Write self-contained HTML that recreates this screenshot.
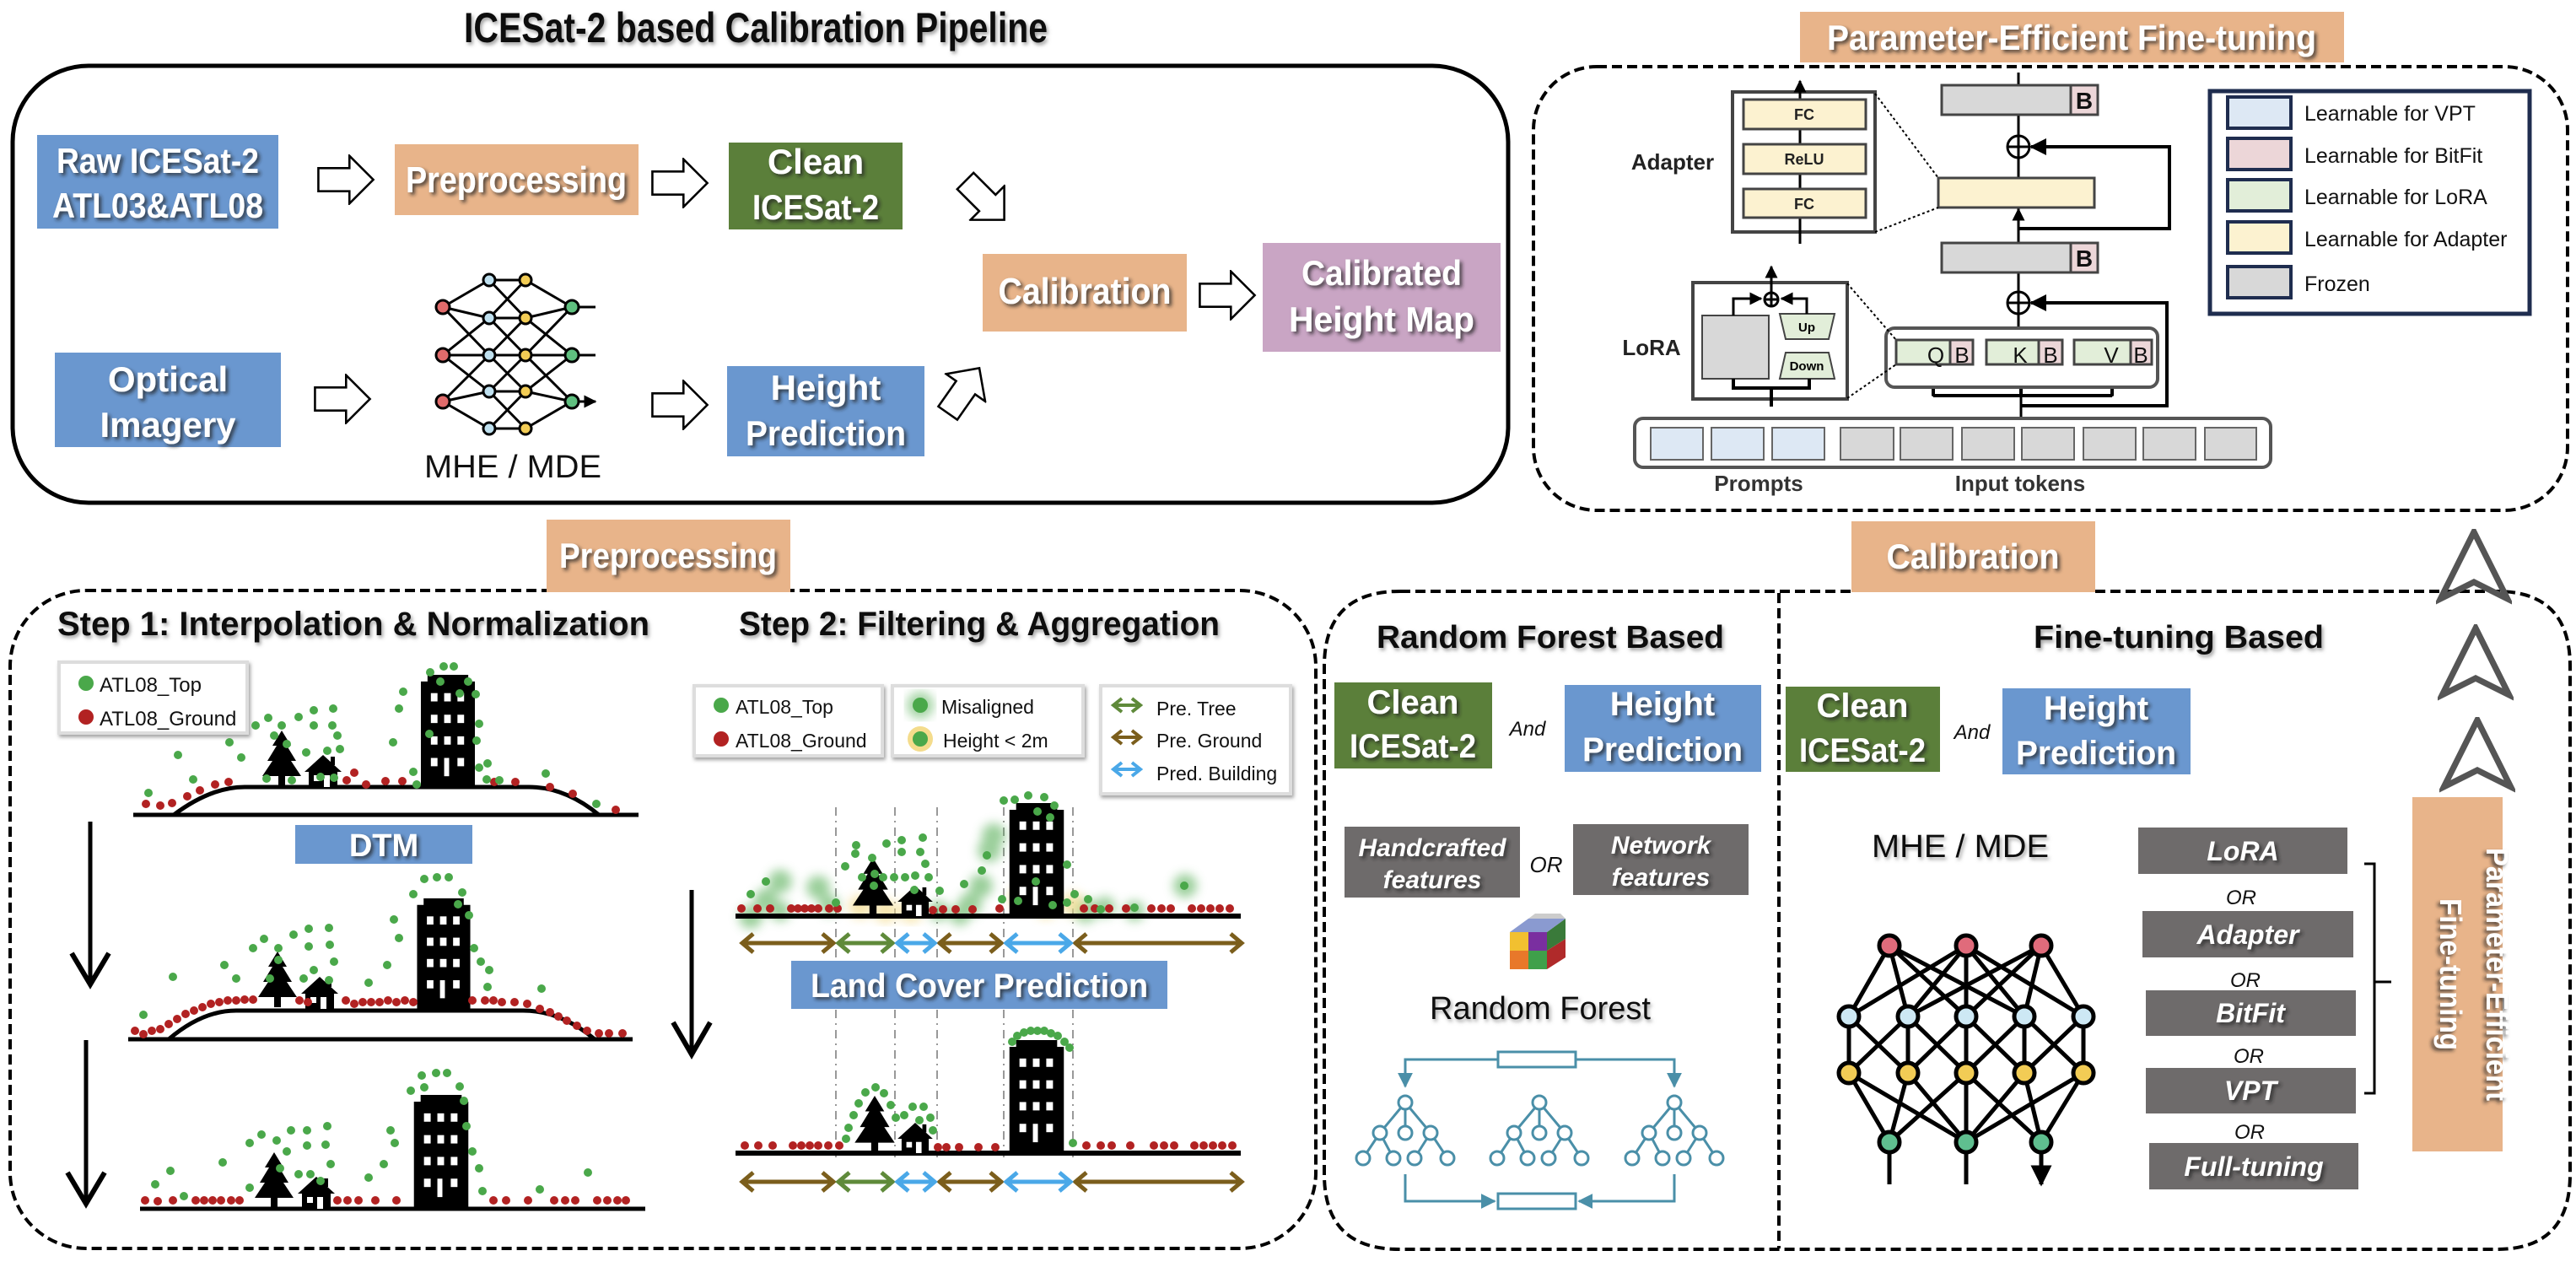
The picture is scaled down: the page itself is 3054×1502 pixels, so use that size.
<!DOCTYPE html>
<html><head><meta charset="utf-8"><style>
html,body{margin:0;padding:0;background:#fff}
svg{display:block}
text{font-family:"Liberation Sans Narrow","Liberation Sans",sans-serif}
.w{fill:#fff;font-weight:bold;filter:url(#sh)}
.k{fill:#111}
</style></head><body>
<svg width="3054" height="1502" viewBox="0 0 3054 1502" xmlns="http://www.w3.org/2000/svg">
<defs>
<filter id="sh" x="-10%" y="-20%" width="130%" height="150%"><feDropShadow dx="3" dy="3" stdDeviation="2" flood-color="#222" flood-opacity="0.75"/></filter>
<filter id="sh2" x="-10%" y="-20%" width="130%" height="150%"><feDropShadow dx="2" dy="3" stdDeviation="2" flood-color="#666" flood-opacity="0.6"/></filter>
<filter id="blur"><feGaussianBlur stdDeviation="6"/></filter>
<symbol id="bld" viewBox="0 0 65 135"><path d="M8 0H57V8H65V135H0V8H8Z" fill="#000"/>
<g fill="#fff"><rect x="12" y="22" width="8" height="10"/><rect x="28" y="22" width="8" height="10"/><rect x="44" y="22" width="8" height="10"/>
<rect x="12" y="48" width="8" height="10"/><rect x="28" y="48" width="8" height="10"/><rect x="44" y="48" width="8" height="10"/>
<rect x="12" y="74" width="8" height="10"/><rect x="28" y="74" width="8" height="10"/><rect x="44" y="74" width="8" height="10"/>
<rect x="12" y="100" width="8" height="10"/><rect x="28" y="100" width="6" height="22"/><rect x="44" y="100" width="8" height="10"/></g></symbol>
<symbol id="tree" viewBox="0 0 46 66"><path d="M23 0L34 18H29L40 36H34L46 54H27V66H19V54H0L12 36H6L17 18H12Z" fill="#000"/></symbol>
<symbol id="house" viewBox="0 0 44 38"><path d="M22 0L44 20H39V38H5V20H0Z" fill="#000"/><rect x="31" y="2" width="5" height="10" fill="#000"/><rect x="11" y="24" width="7" height="7" fill="#fff"/><rect x="23" y="24" width="7" height="14" fill="#fff"/></symbol>
<marker id="ah" viewBox="0 0 10 10" refX="9" refY="5" markerWidth="5" markerHeight="5" orient="auto"><path d="M0 0L10 5L0 10Z" fill="#000"/></marker>
<marker id="ahT" viewBox="0 0 10 10" refX="9" refY="5" markerWidth="6" markerHeight="6" orient="auto"><path d="M0 0L10 5L0 10Z" fill="#4a8fa8"/></marker>
<symbol id="harrow" viewBox="0 0 80 70"><path d="M2 19H45V2L78 35L45 68V51H2Z" fill="#fff" stroke="#000" stroke-width="3"/></symbol>
<symbol id="rft" viewBox="-60 -8 120 82" overflow="visible"><g stroke="#4a8fa8" stroke-width="3" fill="#fff">
<path d="M0 0L-30 36M0 0V36M0 0L30 36M-30 36L-50 66M-30 36L-14 66M30 36L11 66M30 36L50 66" fill="none"/>
<circle cx="0" cy="0" r="8"/><circle cx="-30" cy="36" r="8"/><circle cx="0" cy="36" r="8"/><circle cx="30" cy="36" r="8"/>
<circle cx="-50" cy="66" r="8"/><circle cx="-14" cy="66" r="8"/><circle cx="11" cy="66" r="8"/><circle cx="50" cy="66" r="8"/></g></symbol>
<symbol id="chev" viewBox="0 0 100 100"><path d="M50 4L94 92L50 70L6 92Z" fill="none" stroke="#555" stroke-width="8" stroke-linejoin="miter"/></symbol>
</defs>

<!-- ================= TOP LEFT ================= -->
<text x="896" y="50" font-size="50" font-weight="bold" text-anchor="middle" class="k" filter="url(#sh2)" textLength="692" lengthAdjust="spacingAndGlyphs">ICESat-2 based Calibration Pipeline</text>
<rect x="15" y="78" width="1773" height="518" rx="90" fill="none" stroke="#000" stroke-width="5"/>

<rect x="44" y="160" width="286" height="111" fill="#6a97cf"/>
<text x="187" y="205" font-size="42" text-anchor="middle" class="w" textLength="240" lengthAdjust="spacingAndGlyphs">Raw ICESat-2</text>
<text x="187" y="258" font-size="42" text-anchor="middle" class="w" textLength="250" lengthAdjust="spacingAndGlyphs">ATL03&amp;ATL08</text>
<rect x="468" y="171" width="289" height="84" fill="#e8b48a"/>
<text x="612" y="228" font-size="44" text-anchor="middle" class="w" textLength="262" lengthAdjust="spacingAndGlyphs">Preprocessing</text>
<rect x="864" y="169" width="206" height="103" fill="#5b7f3a"/>
<text x="967" y="206" font-size="42" text-anchor="middle" class="w">Clean</text>
<text x="967" y="260" font-size="42" text-anchor="middle" class="w" textLength="150" lengthAdjust="spacingAndGlyphs">ICESat-2</text>
<rect x="65" y="418" width="268" height="112" fill="#6a97cf"/>
<text x="199" y="464" font-size="42" text-anchor="middle" class="w">Optical</text>
<text x="199" y="518" font-size="42" text-anchor="middle" class="w">Imagery</text>
<rect x="862" y="434" width="234" height="107" fill="#6a97cf"/>
<text x="979" y="474" font-size="42" text-anchor="middle" class="w">Height</text>
<text x="979" y="528" font-size="42" text-anchor="middle" class="w" textLength="190" lengthAdjust="spacingAndGlyphs">Prediction</text>
<rect x="1165" y="301" width="242" height="92" fill="#e8b48a"/>
<text x="1286" y="360" font-size="44" text-anchor="middle" class="w" textLength="205" lengthAdjust="spacingAndGlyphs">Calibration</text>
<rect x="1497" y="288" width="282" height="129" fill="#c9a5c4"/>
<text x="1638" y="338" font-size="42" text-anchor="middle" class="w" textLength="190" lengthAdjust="spacingAndGlyphs">Calibrated</text>
<text x="1638" y="393" font-size="42" text-anchor="middle" class="w" textLength="220" lengthAdjust="spacingAndGlyphs">Height Map</text>

<use href="#harrow" x="371" y="183" width="78" height="60"/>
<use href="#harrow" x="767" y="187" width="78" height="60"/>
<use href="#harrow" x="367" y="443" width="78" height="60"/>
<use href="#harrow" x="767" y="450" width="78" height="60"/>
<use href="#harrow" x="1416" y="320" width="78" height="60"/>
<use href="#harrow" x="0" y="0" width="78" height="60" transform="translate(1140,210) rotate(45) translate(0,-30)"/>
<use href="#harrow" x="0" y="0" width="78" height="60" transform="translate(1120,495) rotate(-55) translate(0,-30)"/>

<!-- top-left NN -->
<g stroke="#000" stroke-width="3">
<path d="M525 364L580 332M525 364L580 377M525 364L580 421M525 421L580 377M525 421L580 421M525 421L580 464M525 476L580 421M525 476L580 464M525 476L580 508
M580 332L623 332M580 332L623 377M580 377L623 332M580 377L623 377M580 377L623 421M580 421L623 377M580 421L623 421M580 421L623 464M580 464L623 421M580 464L623 464M580 464L623 508M580 508L623 464M580 508L623 508
M623 332L678 364M623 377L678 364M623 421L678 364M623 377L678 421M623 421L678 421M623 464L678 421M623 464L678 476M623 508L678 476M623 421L678 476"/>
<path d="M678 364H706M678 421H706M678 476H706" marker-end="url(#ah)"/>
</g>
<g stroke="#000" stroke-width="3">
<circle cx="525" cy="364" r="8" fill="#e06b6b"/><circle cx="525" cy="421" r="8" fill="#e06b6b"/><circle cx="525" cy="476" r="8" fill="#e06b6b"/>
<circle cx="580" cy="332" r="7" fill="#bfe0ef"/><circle cx="580" cy="377" r="7" fill="#bfe0ef"/><circle cx="580" cy="421" r="7" fill="#bfe0ef"/><circle cx="580" cy="464" r="7" fill="#bfe0ef"/><circle cx="580" cy="508" r="7" fill="#bfe0ef"/>
<circle cx="623" cy="332" r="7" fill="#f2cc55"/><circle cx="623" cy="377" r="7" fill="#f2cc55"/><circle cx="623" cy="421" r="7" fill="#f2cc55"/><circle cx="623" cy="464" r="7" fill="#f2cc55"/><circle cx="623" cy="508" r="7" fill="#f2cc55"/>
<circle cx="678" cy="364" r="8" fill="#5fbf7f"/><circle cx="678" cy="421" r="8" fill="#5fbf7f"/><circle cx="678" cy="476" r="8" fill="#5fbf7f"/>
</g>
<text x="608" y="566" font-size="38" text-anchor="middle" class="k" textLength="210" lengthAdjust="spacingAndGlyphs">MHE / MDE</text>

<!-- ================= TOP RIGHT PEFT ================= -->
<rect x="2134" y="14" width="645" height="60" fill="#e8b48a"/>
<text x="2456" y="59" font-size="42" text-anchor="middle" class="w" textLength="580" lengthAdjust="spacingAndGlyphs">Parameter-Efficient Fine-tuning</text>
<rect x="1818" y="79" width="1226" height="526" rx="75" fill="none" stroke="#000" stroke-width="4" stroke-dasharray="12,6"/>

<rect x="2620" y="108" width="379" height="264" fill="none" stroke="#1f2d4f" stroke-width="5"/>
<g stroke="#1f2d4f" stroke-width="4">
<rect x="2641" y="115" width="75" height="37" fill="#dde8f4"/>
<rect x="2641" y="164" width="75" height="37" fill="#ecd6d8"/>
<rect x="2641" y="213" width="75" height="37" fill="#e2eed9"/>
<rect x="2641" y="263" width="75" height="37" fill="#fcf2d0"/>
<rect x="2641" y="316" width="75" height="37" fill="#d8d8d8"/>
</g>
<g font-size="25" class="k">
<text x="2732" y="143">Learnable for VPT</text>
<text x="2732" y="193">Learnable for BitFit</text>
<text x="2732" y="242">Learnable for LoRA</text>
<text x="2732" y="292">Learnable for Adapter</text>
<text x="2732" y="345">Frozen</text>
</g>

<g stroke="#000" stroke-width="3" fill="none">
<path d="M2393 86V101M2393 136V162M2393 186V211M2393 246V288M2393 323V347M2393 371V389M2396 469V497"/>
<path d="M2393 271H2572V174H2408" marker-end="url(#ah)" stroke-width="4"/>
<path d="M2396 481H2569V359H2408" marker-end="url(#ah)" stroke-width="4"/>
<path d="M2393 271V248" marker-end="url(#ah)"/>
<circle cx="2393" cy="174" r="13"/><path d="M2380 174H2406M2393 161V187"/>
<circle cx="2393" cy="359" r="13"/><path d="M2380 359H2406M2393 346V372"/>
<path d="M2292 469H2504M2292 469V434M2396 469V434M2504 469V434" stroke-width="4"/>
<path d="M2292 470V434M2396 470V434M2504 470V434" marker-end="url(#ah)"/>
</g>
<rect x="2302" y="101" width="185" height="35" fill="#d8d8d8" stroke="#444" stroke-width="3"/>
<rect x="2455" y="101" width="32" height="35" fill="#ecd6d8" stroke="#444" stroke-width="3"/>
<text x="2471" y="129" font-size="28" font-weight="bold" text-anchor="middle" class="k">B</text>
<rect x="2298" y="211" width="185" height="35" fill="#fcf2d0" stroke="#444" stroke-width="3"/>
<rect x="2302" y="288" width="185" height="35" fill="#d8d8d8" stroke="#444" stroke-width="3"/>
<rect x="2455" y="288" width="32" height="35" fill="#ecd6d8" stroke="#444" stroke-width="3"/>
<text x="2471" y="316" font-size="28" font-weight="bold" text-anchor="middle" class="k">B</text>

<rect x="2236" y="389" width="322" height="70" rx="10" fill="#fff" stroke="#555" stroke-width="4"/>
<g stroke="#444" stroke-width="3">
<rect x="2248" y="403" width="91" height="29" fill="#e2eed9"/><rect x="2312" y="403" width="27" height="29" fill="#ecd6d8"/>
<rect x="2355" y="403" width="90" height="29" fill="#e2eed9"/><rect x="2417" y="403" width="28" height="29" fill="#ecd6d8"/>
<rect x="2459" y="403" width="92" height="29" fill="#e2eed9"/><rect x="2526" y="403" width="25" height="29" fill="#ecd6d8"/>
</g>
<g font-size="26" class="k" text-anchor="middle"><text x="2295" y="430">Q</text><text x="2326" y="430">B</text><text x="2395" y="430">K</text><text x="2431" y="430">B</text><text x="2503" y="430">V</text><text x="2538" y="430">B</text></g>

<rect x="1938" y="496" width="754" height="58" rx="10" fill="#fff" stroke="#555" stroke-width="4"/>
<g stroke="#666" stroke-width="2">
<rect x="1957" y="507" width="62" height="38" fill="#dde8f4"/><rect x="2029" y="507" width="62" height="38" fill="#dde8f4"/><rect x="2101" y="507" width="62" height="38" fill="#dde8f4"/>
<rect x="2182" y="507" width="63" height="38" fill="#d8d8d8"/><rect x="2253" y="507" width="62" height="38" fill="#d8d8d8"/><rect x="2326" y="507" width="62" height="38" fill="#d8d8d8"/><rect x="2397" y="507" width="62" height="38" fill="#d8d8d8"/><rect x="2470" y="507" width="62" height="38" fill="#d8d8d8"/><rect x="2541" y="507" width="62" height="38" fill="#d8d8d8"/><rect x="2614" y="507" width="61" height="38" fill="#d8d8d8"/>
</g>
<text x="2085" y="582" font-size="26" font-weight="bold" text-anchor="middle" fill="#333">Prompts</text>
<text x="2395" y="582" font-size="26" font-weight="bold" text-anchor="middle" fill="#333">Input tokens</text>

<!-- adapter detail -->
<rect x="2054" y="109" width="169" height="166" fill="#fff" stroke="#444" stroke-width="4"/>
<path d="M2134 289V96" stroke="#000" stroke-width="3" marker-end="url(#ah)"/>
<g stroke="#444" stroke-width="3" fill="#fcf2d0">
<rect x="2067" y="118" width="145" height="35"/><rect x="2067" y="171" width="145" height="35"/><rect x="2067" y="224" width="145" height="34"/></g>
<g font-size="18" font-weight="bold" text-anchor="middle" fill="#222"><text x="2139" y="142">FC</text><text x="2139" y="195">ReLU</text><text x="2139" y="248">FC</text></g>
<text x="1983" y="201" font-size="26" font-weight="bold" text-anchor="middle" fill="#222">Adapter</text>
<path d="M2223 111L2298 211M2223 275L2298 246" stroke="#000" stroke-width="2" stroke-dasharray="3,3"/>
<!-- LoRA detail -->
<rect x="2007" y="335" width="183" height="138" fill="#fff" stroke="#444" stroke-width="4"/>
<rect x="2018" y="374" width="79" height="75" fill="#d8d8d8" stroke="#444" stroke-width="2"/>
<path d="M2110 372H2175L2168 402H2117Z" fill="#e2eed9" stroke="#444" stroke-width="2"/>
<path d="M2117 418H2168L2175 449H2110Z" fill="#e2eed9" stroke="#444" stroke-width="2"/>
<text x="2142" y="393" font-size="15" font-weight="bold" text-anchor="middle">Up</text>
<text x="2142" y="439" font-size="15" font-weight="bold" text-anchor="middle">Down</text>
<g stroke="#000" stroke-width="3" fill="none">
<path d="M2100 482V460M2055 449V460H2145V449" stroke-width="4"/>
<path d="M2055 374V354H2088" marker-end="url(#ah)"/><path d="M2142 372V354H2112" marker-end="url(#ah)"/>
<circle cx="2100" cy="355" r="8"/><path d="M2092 355H2108M2100 347V363"/>
<path d="M2100 347V316" marker-end="url(#ah)"/>
</g>
<text x="1958" y="421" font-size="26" font-weight="bold" text-anchor="middle" fill="#222">LoRA</text>
<path d="M2190 336L2248 403M2190 472L2248 432" stroke="#000" stroke-width="2" stroke-dasharray="3,3"/>

<!-- ================= BOTTOM LEFT PREPROCESSING ================= -->
<rect x="12" y="700" width="1548" height="780" rx="90" fill="none" stroke="#000" stroke-width="4" stroke-dasharray="12,6"/>
<rect x="648" y="616" width="289" height="86" fill="#e8b48a"/>
<text x="792" y="673" font-size="42" text-anchor="middle" class="w" textLength="258" lengthAdjust="spacingAndGlyphs">Preprocessing</text>
<text x="68" y="753" font-size="40" font-weight="bold" class="k" filter="url(#sh2)" textLength="702" lengthAdjust="spacingAndGlyphs">Step 1: Interpolation &amp; Normalization</text>
<text x="876" y="753" font-size="40" font-weight="bold" class="k" filter="url(#sh2)" textLength="570" lengthAdjust="spacingAndGlyphs">Step 2: Filtering &amp; Aggregation</text>

<rect x="70" y="785" width="223" height="84" fill="#fff" stroke="#ddd" stroke-width="4" filter="url(#sh2)"/>
<circle cx="102" cy="810" r="9" fill="#4aa84a"/><circle cx="102" cy="850" r="9" fill="#b22222"/>
<text x="118" y="820" font-size="24" class="k">ATL08_Top</text><text x="118" y="860" font-size="24" class="k">ATL08_Ground</text>

<!-- scene 1 -->
<path d="M158 966H757" stroke="#000" stroke-width="5"/>
<path d="M206 966Q250 933 290 933H627Q670 933 710 966" fill="none" stroke="#000" stroke-width="5"/>
<use href="#tree" x="311" y="866" width="46" height="66"/><use href="#house" x="361" y="895" width="44" height="38"/>
<use href="#bld" x="496" y="800" width="70" height="133"/>
<g fill="#b22222"><circle cx="173" cy="953" r="5"/><circle cx="190" cy="955" r="5"/><circle cx="204" cy="952" r="5"/><circle cx="222" cy="944" r="5"/><circle cx="237" cy="937" r="5"/><circle cx="255" cy="930" r="5"/><circle cx="271" cy="927" r="5"/><circle cx="411" cy="925" r="5"/><circle cx="420" cy="916" r="5"/><circle cx="434" cy="930" r="5"/><circle cx="457" cy="926" r="5"/><circle cx="477" cy="926" r="5"/><circle cx="586" cy="927" r="5"/><circle cx="611" cy="927" r="5"/><circle cx="652" cy="933" r="5"/><circle cx="679" cy="941" r="5"/><circle cx="730" cy="960" r="5"/></g>
<g fill="#4aa84a"><circle cx="176" cy="940" r="5"/><circle cx="211" cy="895" r="5"/><circle cx="229" cy="924" r="5"/><circle cx="272" cy="880" r="5"/><circle cx="286" cy="898" r="5"/><circle cx="303" cy="860" r="5"/><circle cx="318" cy="851" r="5"/><circle cx="334" cy="860" r="5"/><circle cx="325" cy="872" r="5"/><circle cx="340" cy="882" r="5"/><circle cx="354" cy="850" r="5"/><circle cx="372" cy="842" r="5"/><circle cx="372" cy="860" r="5"/><circle cx="395" cy="840" r="5"/><circle cx="394" cy="860" r="5"/><circle cx="400" cy="872" r="5"/><circle cx="388" cy="890" r="5"/><circle cx="403" cy="888" r="5"/><circle cx="363" cy="892" r="5"/><circle cx="346" cy="925" r="5"/><circle cx="380" cy="921" r="5"/><circle cx="396" cy="922" r="5"/><circle cx="316" cy="923" r="5"/><circle cx="466" cy="880" r="5"/><circle cx="473" cy="840" r="5"/><circle cx="478" cy="820" r="5"/><circle cx="490" cy="915" r="5"/><circle cx="494" cy="930" r="5"/><circle cx="510" cy="797" r="5"/><circle cx="526" cy="790" r="5"/><circle cx="538" cy="790" r="5"/><circle cx="522" cy="808" r="5"/><circle cx="555" cy="808" r="5"/><circle cx="564" cy="823" r="5"/><circle cx="545" cy="822" r="5"/><circle cx="565" cy="878" r="5"/><circle cx="568" cy="858" r="5"/><circle cx="509" cy="870" r="5"/><circle cx="568" cy="910" r="5"/><circle cx="578" cy="905" r="5"/><circle cx="577" cy="924" r="5"/><circle cx="592" cy="925" r="5"/><circle cx="647" cy="917" r="5"/><circle cx="707" cy="953" r="5"/></g>

<rect x="350" y="978" width="210" height="46" fill="#6a97cf"/>
<text x="455" y="1015" font-size="38" text-anchor="middle" class="w">DTM</text>

<!-- scene 2 -->
<path d="M152 1232H750" stroke="#000" stroke-width="5"/>
<path d="M200 1232Q240 1198 280 1198H620Q665 1198 705 1232" fill="none" stroke="#000" stroke-width="5"/>
<use href="#tree" x="306" y="1128" width="46" height="66"/><use href="#house" x="357" y="1158" width="44" height="38"/>
<use href="#bld" x="493" y="1065" width="66" height="131"/>
<g fill="#b22222">
<circle cx="160" cy="1222" r="5"/><circle cx="170" cy="1226" r="5"/><circle cx="180" cy="1222" r="5"/><circle cx="190" cy="1220" r="5"/><circle cx="200" cy="1214" r="5"/><circle cx="210" cy="1208" r="5"/><circle cx="220" cy="1202" r="5"/><circle cx="230" cy="1198" r="5"/><circle cx="240" cy="1194" r="5"/><circle cx="250" cy="1190" r="5"/><circle cx="260" cy="1188" r="5"/><circle cx="270" cy="1186" r="5"/><circle cx="280" cy="1186" r="5"/><circle cx="290" cy="1185" r="5"/><circle cx="300" cy="1185" r="5"/><circle cx="355" cy="1186" r="5"/><circle cx="365" cy="1188" r="5"/><circle cx="410" cy="1186" r="5"/><circle cx="420" cy="1190" r="5"/><circle cx="430" cy="1188" r="5"/><circle cx="440" cy="1188" r="5"/><circle cx="450" cy="1188" r="5"/><circle cx="460" cy="1186" r="5"/><circle cx="470" cy="1188" r="5"/><circle cx="480" cy="1186" r="5"/><circle cx="490" cy="1188" r="5"/><circle cx="560" cy="1186" r="5"/><circle cx="575" cy="1186" r="5"/><circle cx="585" cy="1186" r="5"/><circle cx="595" cy="1188" r="5"/><circle cx="610" cy="1188" r="5"/><circle cx="625" cy="1190" r="5"/><circle cx="640" cy="1196" r="5"/><circle cx="652" cy="1200" r="5"/><circle cx="662" cy="1205" r="5"/><circle cx="672" cy="1210" r="5"/><circle cx="684" cy="1216" r="5"/><circle cx="696" cy="1222" r="5"/><circle cx="710" cy="1225" r="5"/><circle cx="722" cy="1225" r="5"/><circle cx="738" cy="1225" r="5"/></g>
<g fill="#4aa84a"><circle cx="170" cy="1203" r="5"/><circle cx="205" cy="1158" r="5"/><circle cx="266" cy="1144" r="5"/><circle cx="280" cy="1160" r="5"/><circle cx="300" cy="1124" r="5"/><circle cx="313" cy="1113" r="5"/><circle cx="330" cy="1124" r="5"/><circle cx="348" cy="1108" r="5"/><circle cx="366" cy="1101" r="5"/><circle cx="366" cy="1122" r="5"/><circle cx="390" cy="1100" r="5"/><circle cx="391" cy="1120" r="5"/><circle cx="396" cy="1140" r="5"/><circle cx="372" cy="1150" r="5"/><circle cx="360" cy="1160" r="5"/><circle cx="390" cy="1162" r="5"/><circle cx="330" cy="1138" r="5"/><circle cx="320" cy="1160" r="5"/><circle cx="437" cy="1165" r="5"/><circle cx="459" cy="1144" r="5"/><circle cx="467" cy="1090" r="5"/><circle cx="473" cy="1112" r="5"/><circle cx="503" cy="1042" r="5"/><circle cx="518" cy="1040" r="5"/><circle cx="532" cy="1040" r="5"/><circle cx="490" cy="1060" r="5"/><circle cx="548" cy="1058" r="5"/><circle cx="543" cy="1072" r="5"/><circle cx="556" cy="1085" r="5"/><circle cx="562" cy="1124" r="5"/><circle cx="570" cy="1140" r="5"/><circle cx="580" cy="1150" r="5"/><circle cx="578" cy="1170" r="5"/><circle cx="642" cy="1172" r="5"/></g>

<!-- scene 3 -->
<path d="M166 1433H765" stroke="#000" stroke-width="5"/>
<use href="#tree" x="302" y="1366" width="46" height="66"/><use href="#house" x="353" y="1395" width="44" height="38"/>
<use href="#bld" x="490" y="1298" width="66" height="134"/>
<g fill="#b22222"><circle cx="172" cy="1423" r="5"/><circle cx="187" cy="1424" r="5"/><circle cx="205" cy="1423" r="5"/><circle cx="232" cy="1423" r="5"/><circle cx="242" cy="1423" r="5"/><circle cx="252" cy="1423" r="5"/><circle cx="262" cy="1423" r="5"/><circle cx="274" cy="1423" r="5"/><circle cx="284" cy="1423" r="5"/><circle cx="400" cy="1423" r="5"/><circle cx="412" cy="1423" r="5"/><circle cx="425" cy="1423" r="5"/><circle cx="445" cy="1423" r="5"/><circle cx="470" cy="1423" r="5"/><circle cx="585" cy="1423" r="5"/><circle cx="600" cy="1423" r="5"/><circle cx="626" cy="1423" r="5"/><circle cx="657" cy="1423" r="5"/><circle cx="670" cy="1423" r="5"/><circle cx="682" cy="1423" r="5"/><circle cx="708" cy="1423" r="5"/><circle cx="720" cy="1423" r="5"/><circle cx="732" cy="1423" r="5"/><circle cx="742" cy="1423" r="5"/></g>
<g fill="#4aa84a"><circle cx="184" cy="1404" r="5"/><circle cx="202" cy="1388" r="5"/><circle cx="218" cy="1418" r="5"/><circle cx="264" cy="1378" r="5"/><circle cx="296" cy="1355" r="5"/><circle cx="310" cy="1345" r="5"/><circle cx="328" cy="1352" r="5"/><circle cx="340" cy="1365" r="5"/><circle cx="345" cy="1340" r="5"/><circle cx="364" cy="1340" r="5"/><circle cx="364" cy="1358" r="5"/><circle cx="388" cy="1335" r="5"/><circle cx="386" cy="1357" r="5"/><circle cx="392" cy="1380" r="5"/><circle cx="368" cy="1392" r="5"/><circle cx="354" cy="1392" r="5"/><circle cx="380" cy="1400" r="5"/><circle cx="296" cy="1408" r="5"/><circle cx="332" cy="1385" r="5"/><circle cx="437" cy="1396" r="5"/><circle cx="455" cy="1380" r="5"/><circle cx="463" cy="1340" r="5"/><circle cx="468" cy="1355" r="5"/><circle cx="500" cy="1275" r="5"/><circle cx="517" cy="1272" r="5"/><circle cx="530" cy="1272" r="5"/><circle cx="487" cy="1293" r="5"/><circle cx="503" cy="1289" r="5"/><circle cx="545" cy="1288" r="5"/><circle cx="550" cy="1305" r="5"/><circle cx="553" cy="1335" r="5"/><circle cx="560" cy="1365" r="5"/><circle cx="568" cy="1385" r="5"/><circle cx="572" cy="1412" r="5"/><circle cx="640" cy="1410" r="5"/><circle cx="697" cy="1390" r="5"/></g>

<path d="M107 974V1162" stroke="#000" stroke-width="5"/><path d="M85 1130L107 1167L129 1130" fill="none" stroke="#000" stroke-width="6"/>
<path d="M102 1233V1422" stroke="#000" stroke-width="5"/><path d="M80 1390L102 1427L124 1390" fill="none" stroke="#000" stroke-width="6"/>
<path d="M820 1055V1246" stroke="#000" stroke-width="5"/><path d="M798 1212L820 1250L842 1212" fill="none" stroke="#000" stroke-width="6"/>

<!-- step2 legends -->
<g filter="url(#sh2)" fill="#fff" stroke="#ddd" stroke-width="4">
<rect x="823" y="813" width="223" height="83"/><rect x="1058" y="813" width="226" height="83"/><rect x="1305" y="813" width="225" height="128"/></g>
<circle cx="855" cy="836" r="9" fill="#4aa84a"/><circle cx="855" cy="876" r="9" fill="#b22222"/>
<text x="872" y="846" font-size="23" class="k">ATL08_Top</text><text x="872" y="886" font-size="23" class="k">ATL08_Ground</text>
<circle cx="1091" cy="836" r="16" fill="#4aa84a" opacity="0.5" filter="url(#blur)"/><circle cx="1091" cy="836" r="9" fill="#4aa84a"/>
<circle cx="1091" cy="876" r="15" fill="#f4dc8c"/><circle cx="1091" cy="876" r="9" fill="#4aa84a"/>
<text x="1116" y="846" font-size="23" class="k">Misaligned</text><text x="1118" y="886" font-size="23" class="k">Height &lt; 2m</text>
<g stroke-width="4" fill="none">
<path d="M1320 836H1352M1330 828L1320 836L1330 844M1342 828L1352 836L1342 844" stroke="#5f8a3a"/>
<path d="M1320 874H1352M1330 866L1320 874L1330 882M1342 866L1352 874L1342 882" stroke="#7b5e1c"/>
<path d="M1320 912H1352M1330 904L1320 912L1330 920M1342 904L1352 912L1342 920" stroke="#4aa8e8"/></g>
<text x="1371" y="848" font-size="23" class="k">Pre. Tree</text><text x="1371" y="886" font-size="23" class="k">Pre. Ground</text><text x="1371" y="925" font-size="23" class="k">Pred. Building</text>

<!-- step2 scenes -->
<g stroke="#999" stroke-width="2" stroke-dasharray="10,6,2,6"><path d="M991 957V1372M1061 957V1372M1111 957V1372M1190 957V1372M1272 957V1372"/></g>
<g fill="#4aa84a" opacity="0.55" filter="url(#blur)"><circle cx="890" cy="1087" r="14"/><circle cx="908" cy="1067" r="14"/><circle cx="925" cy="1045" r="14"/><circle cx="925" cy="1080" r="12"/><circle cx="970" cy="1052" r="14"/><circle cx="983" cy="1073" r="12"/><circle cx="1113" cy="1080" r="12"/><circle cx="1150" cy="1072" r="14"/><circle cx="1163" cy="1050" r="14"/><circle cx="1173" cy="1008" r="14"/><circle cx="1178" cy="990" r="14"/><circle cx="1138" cy="1085" r="12"/><circle cx="1287" cy="1080" r="14"/><circle cx="1310" cy="1075" r="12"/><circle cx="1345" cy="1080" r="12"/><circle cx="1405" cy="1050" r="14"/></g>
<g fill="#f4dc8c" opacity="0.7" filter="url(#blur)"><circle cx="1020" cy="1075" r="14"/><circle cx="1050" cy="1080" r="14"/><circle cx="1080" cy="1080" r="14"/><circle cx="1210" cy="1065" r="14"/><circle cx="1240" cy="1075" r="14"/><circle cx="1272" cy="1072" r="14"/></g>
<path d="M872 1086H1471" stroke="#000" stroke-width="6"/>
<use href="#tree" x="1010" y="1017" width="50" height="69"/><use href="#house" x="1063" y="1050" width="44" height="36"/>
<use href="#bld" x="1196" y="952" width="66" height="134"/>
<g fill="#b22222"><circle cx="879" cy="1077" r="5"/><circle cx="898" cy="1077" r="5"/><circle cx="913" cy="1077" r="5"/><circle cx="938" cy="1077" r="5"/><circle cx="946" cy="1077" r="5"/><circle cx="954" cy="1077" r="5"/><circle cx="962" cy="1077" r="5"/><circle cx="970" cy="1077" r="5"/><circle cx="983" cy="1077" r="5"/><circle cx="993" cy="1077" r="5"/><circle cx="1106" cy="1079" r="5"/><circle cx="1118" cy="1078" r="5"/><circle cx="1133" cy="1078" r="5"/><circle cx="1153" cy="1078" r="5"/><circle cx="1185" cy="1077" r="5"/><circle cx="1285" cy="1077" r="5"/><circle cx="1298" cy="1077" r="5"/><circle cx="1315" cy="1077" r="5"/><circle cx="1335" cy="1077" r="5"/><circle cx="1365" cy="1077" r="5"/><circle cx="1377" cy="1077" r="5"/><circle cx="1388" cy="1077" r="5"/><circle cx="1413" cy="1077" r="5"/><circle cx="1424" cy="1077" r="5"/><circle cx="1435" cy="1077" r="5"/><circle cx="1446" cy="1077" r="5"/><circle cx="1458" cy="1077" r="5"/></g>
<g fill="#4aa84a"><circle cx="890" cy="1060" r="5"/><circle cx="908" cy="1045" r="5"/><circle cx="991" cy="1070" r="5"/><circle cx="1002" cy="1027" r="5"/><circle cx="1014" cy="1012" r="5"/><circle cx="1015" cy="1002" r="5"/><circle cx="1034" cy="1017" r="5"/><circle cx="1051" cy="1000" r="5"/><circle cx="1022" cy="1040" r="5"/><circle cx="1036" cy="1050" r="5"/><circle cx="1037" cy="1036" r="5"/><circle cx="1047" cy="1040" r="5"/><circle cx="1069" cy="996" r="5"/><circle cx="1069" cy="1010" r="5"/><circle cx="1094" cy="993" r="5"/><circle cx="1091" cy="1010" r="5"/><circle cx="1097" cy="1024" r="5"/><circle cx="1085" cy="1038" r="5"/><circle cx="1060" cy="1040" r="5"/><circle cx="1073" cy="1040" r="5"/><circle cx="1101" cy="1040" r="5"/><circle cx="1084" cy="1055" r="5"/><circle cx="1114" cy="1056" r="5"/><circle cx="1143" cy="1048" r="5"/><circle cx="1164" cy="1032" r="5"/><circle cx="1170" cy="1014" r="5"/><circle cx="1188" cy="1066" r="5"/><circle cx="1190" cy="949" r="5"/><circle cx="1203" cy="948" r="5"/><circle cx="1219" cy="943" r="5"/><circle cx="1238" cy="945" r="5"/><circle cx="1250" cy="955" r="5"/><circle cx="1230" cy="962" r="5"/><circle cx="1245" cy="969" r="5"/><circle cx="1265" cy="1025" r="5"/><circle cx="1265" cy="1070" r="5"/><circle cx="1274" cy="1060" r="5"/><circle cx="1290" cy="1066" r="5"/><circle cx="1305" cy="1078" r="5"/><circle cx="1345" cy="1076" r="5"/><circle cx="1404" cy="1050" r="5"/><circle cx="1228" cy="1045" r="5"/><circle cx="1248" cy="1073" r="5"/><circle cx="1207" cy="1068" r="5"/></g>

<!-- arrows row -->
<g stroke-width="5" fill="none">
<g stroke="#7b5e1c"><path d="M880 1118H988M893 1107L880 1118L893 1129M975 1107L988 1118L975 1129"/><path d="M1114 1118H1187M1127 1107L1114 1118L1127 1129M1174 1107L1187 1118L1174 1129"/><path d="M1275 1118H1472M1288 1107L1275 1118L1288 1129M1459 1107L1472 1118L1459 1129"/></g>
<g stroke="#5f8a3a"><path d="M994 1118H1058M1007 1107L994 1118L1007 1129M1045 1107L1058 1118L1045 1129"/></g>
<g stroke="#4aa8e8"><path d="M1064 1118H1108M1077 1107L1064 1118L1077 1129M1095 1107L1108 1118L1095 1129"/><path d="M1193 1118H1269M1206 1107L1193 1118L1206 1129M1256 1107L1269 1118L1256 1129"/></g>
</g>
<g stroke-width="5" fill="none" transform="translate(0,283)">
<g stroke="#7b5e1c"><path d="M880 1118H988M893 1107L880 1118L893 1129M975 1107L988 1118L975 1129"/><path d="M1114 1118H1187M1127 1107L1114 1118L1127 1129M1174 1107L1187 1118L1174 1129"/><path d="M1275 1118H1472M1288 1107L1275 1118L1288 1129M1459 1107L1472 1118L1459 1129"/></g>
<g stroke="#5f8a3a"><path d="M994 1118H1058M1007 1107L994 1118L1007 1129M1045 1107L1058 1118L1045 1129"/></g>
<g stroke="#4aa8e8"><path d="M1064 1118H1108M1077 1107L1064 1118L1077 1129M1095 1107L1108 1118L1095 1129"/><path d="M1193 1118H1269M1206 1107L1193 1118L1206 1129M1256 1107L1269 1118L1256 1129"/></g>
</g>
<rect x="938" y="1139" width="446" height="57" fill="#6a97cf"/>
<text x="1161" y="1182" font-size="40" text-anchor="middle" class="w" textLength="400" lengthAdjust="spacingAndGlyphs">Land Cover Prediction</text>

<path d="M872 1367H1471" stroke="#000" stroke-width="6"/>
<use href="#tree" x="1012" y="1299" width="50" height="68"/><use href="#house" x="1063" y="1331" width="44" height="36"/>
<use href="#bld" x="1196" y="1233" width="66" height="134"/>
<g fill="#b22222"><circle cx="883" cy="1358" r="5"/><circle cx="899" cy="1358" r="5"/><circle cx="916" cy="1358" r="5"/><circle cx="940" cy="1358" r="5"/><circle cx="950" cy="1358" r="5"/><circle cx="960" cy="1358" r="5"/><circle cx="970" cy="1358" r="5"/><circle cx="982" cy="1358" r="5"/><circle cx="995" cy="1358" r="5"/><circle cx="1112" cy="1360" r="5"/><circle cx="1122" cy="1360" r="5"/><circle cx="1137" cy="1360" r="5"/><circle cx="1160" cy="1360" r="5"/><circle cx="1180" cy="1360" r="5"/><circle cx="1288" cy="1358" r="5"/><circle cx="1305" cy="1358" r="5"/><circle cx="1318" cy="1358" r="5"/><circle cx="1340" cy="1358" r="5"/><circle cx="1368" cy="1358" r="5"/><circle cx="1380" cy="1358" r="5"/><circle cx="1392" cy="1358" r="5"/><circle cx="1416" cy="1358" r="5"/><circle cx="1427" cy="1358" r="5"/><circle cx="1438" cy="1358" r="5"/><circle cx="1449" cy="1358" r="5"/><circle cx="1461" cy="1358" r="5"/></g>
<g fill="#4aa84a"><circle cx="1003" cy="1350" r="5"/><circle cx="1006" cy="1337" r="5"/><circle cx="1012" cy="1322" r="5"/><circle cx="1018" cy="1308" r="5"/><circle cx="1026" cy="1295" r="5"/><circle cx="1038" cy="1289" r="5"/><circle cx="1048" cy="1296" r="5"/><circle cx="1056" cy="1310" r="5"/><circle cx="1062" cy="1325" r="5"/><circle cx="1072" cy="1322" r="5"/><circle cx="1082" cy="1312" r="5"/><circle cx="1095" cy="1312" r="5"/><circle cx="1103" cy="1325" r="5"/><circle cx="1106" cy="1340" r="5"/><circle cx="1090" cy="1328" r="5"/><circle cx="1200" cy="1235" r="5"/><circle cx="1206" cy="1228" r="5"/><circle cx="1214" cy="1224" r="5"/><circle cx="1222" cy="1222" r="5"/><circle cx="1230" cy="1222" r="5"/><circle cx="1238" cy="1222" r="5"/><circle cx="1246" cy="1225" r="5"/><circle cx="1254" cy="1228" r="5"/><circle cx="1262" cy="1235" r="5"/><circle cx="1268" cy="1242" r="5"/><circle cx="1272" cy="1355" r="5"/></g>

<!-- ================= BOTTOM RIGHT CALIBRATION ================= -->
<path d="M1660 701H2195M2484 701H2960Q3047 701 3047 790V1392Q3047 1481 2960 1481H1659Q1570 1481 1570 1392V790Q1570 701 1660 701" fill="none" stroke="#000" stroke-width="4" stroke-dasharray="12,6"/>
<path d="M2109 703V1480" stroke="#000" stroke-width="4" stroke-dasharray="12,6"/>
<rect x="2195" y="618" width="289" height="84" fill="#e8b48a"/>
<text x="2339" y="674" font-size="42" text-anchor="middle" class="w" textLength="205" lengthAdjust="spacingAndGlyphs">Calibration</text>

<text x="1838" y="768" font-size="38" font-weight="bold" text-anchor="middle" class="k" filter="url(#sh2)" textLength="412" lengthAdjust="spacingAndGlyphs">Random Forest  Based</text>
<text x="2583" y="768" font-size="38" font-weight="bold" text-anchor="middle" class="k" filter="url(#sh2)" textLength="344" lengthAdjust="spacingAndGlyphs">Fine-tuning  Based</text>

<rect x="1582" y="809" width="187" height="102" fill="#5b7f3a"/>
<text x="1675" y="846" font-size="40" text-anchor="middle" class="w">Clean</text>
<text x="1675" y="898" font-size="40" text-anchor="middle" class="w" textLength="150" lengthAdjust="spacingAndGlyphs">ICESat-2</text>
<text x="1811" y="872" font-size="24" font-style="italic" text-anchor="middle" class="k">And</text>
<rect x="1855" y="812" width="233" height="103" fill="#6a97cf"/>
<text x="1971" y="848" font-size="40" text-anchor="middle" class="w">Height</text>
<text x="1971" y="902" font-size="40" text-anchor="middle" class="w" textLength="190" lengthAdjust="spacingAndGlyphs">Prediction</text>

<rect x="2117" y="814" width="183" height="101" fill="#5b7f3a"/>
<text x="2208" y="850" font-size="40" text-anchor="middle" class="w">Clean</text>
<text x="2208" y="903" font-size="40" text-anchor="middle" class="w" textLength="150" lengthAdjust="spacingAndGlyphs">ICESat-2</text>
<text x="2338" y="876" font-size="24" font-style="italic" text-anchor="middle" class="k">And</text>
<rect x="2374" y="816" width="223" height="102" fill="#6a97cf"/>
<text x="2485" y="853" font-size="40" text-anchor="middle" class="w">Height</text>
<text x="2485" y="906" font-size="40" text-anchor="middle" class="w" textLength="190" lengthAdjust="spacingAndGlyphs">Prediction</text>

<rect x="1594" y="980" width="208" height="84" fill="#6e6b6b"/>
<text x="1698" y="1015" font-size="30" font-style="italic" font-weight="bold" text-anchor="middle" class="w" textLength="175" lengthAdjust="spacingAndGlyphs">Handcrafted</text>
<text x="1698" y="1053" font-size="30" font-style="italic" font-weight="bold" text-anchor="middle" class="w">features</text>
<text x="1833" y="1034" font-size="26" font-style="italic" text-anchor="middle" class="k">OR</text>
<rect x="1865" y="977" width="208" height="84" fill="#6e6b6b"/>
<text x="1969" y="1012" font-size="30" font-style="italic" font-weight="bold" text-anchor="middle" class="w">Network</text>
<text x="1969" y="1050" font-size="30" font-style="italic" font-weight="bold" text-anchor="middle" class="w">features</text>

<!-- cube -->
<g transform="translate(1790,1083)">
<rect x="0" y="22" width="22" height="22" fill="#f2c030"/><rect x="22" y="22" width="22" height="22" fill="#7a2fa0"/>
<rect x="0" y="44" width="22" height="22" fill="#e8782a"/><rect x="22" y="44" width="22" height="22" fill="#3fa04a"/>
<path d="M44 22L66 6V30L44 44Z" fill="#3a7a3a"/><path d="M44 44L66 30V52L44 66Z" fill="#b02a2a"/>
<path d="M0 22L22 6H66L44 22Z" fill="#8a9ad0"/><path d="M22 6L30 0H60L66 6Z" fill="#ccc"/>
</g>
<text x="1826" y="1208" font-size="38" text-anchor="middle" class="k" filter="url(#sh2)">Random Forest</text>

<g stroke="#4a8fa8" stroke-width="3" fill="none">
<rect x="1776" y="1247" width="92" height="18" fill="#fff"/>
<path d="M1776 1256H1666V1288" marker-end="url(#ahT)"/><path d="M1868 1256H1985V1288" marker-end="url(#ahT)"/>
<rect x="1776" y="1415" width="92" height="18" fill="#fff"/>
<path d="M1666 1392V1424H1772" marker-end="url(#ahT)"/><path d="M1985 1392V1424H1872" marker-end="url(#ahT)"/>
</g>
<use href="#rft" x="1606" y="1299" width="120" height="82"/>
<use href="#rft" x="1765" y="1299" width="120" height="82"/>
<use href="#rft" x="1925" y="1299" width="120" height="82"/>

<text x="2324" y="1016" font-size="38" text-anchor="middle" class="k" filter="url(#sh2)" textLength="210" lengthAdjust="spacingAndGlyphs">MHE / MDE</text>

<!-- bottom NN -->
<g stroke="#000" stroke-width="5">
<path d="M2240 1121L2192 1205M2240 1121L2262 1205M2240 1121L2331 1205M2240 1121L2400 1205M2331 1121L2262 1205M2331 1121L2331 1205M2331 1121L2400 1205M2331 1121L2192 1205M2331 1121L2470 1205M2420 1121L2331 1205M2420 1121L2400 1205M2420 1121L2470 1205M2420 1121L2262 1205
M2192 1205L2192 1272M2192 1205L2262 1272M2262 1205L2192 1272M2262 1205L2331 1272M2331 1205L2262 1272M2331 1205L2400 1272M2400 1205L2331 1272M2400 1205L2470 1272M2470 1205L2400 1272M2470 1205L2470 1272M2262 1205L2262 1272M2331 1205L2331 1272M2400 1205L2400 1272
M2192 1272L2240 1354M2262 1272L2240 1354M2331 1272L2240 1354M2262 1272L2331 1354M2331 1272L2331 1354M2400 1272L2331 1354M2192 1272L2331 1354M2470 1272L2331 1354M2400 1272L2420 1354M2470 1272L2420 1354M2331 1272L2420 1354"/>
<path d="M2240 1354V1404M2331 1354V1404M2420 1354V1404" marker-end="url(#ah)"/>
</g>
<g stroke="#000" stroke-width="5">
<circle cx="2240" cy="1121" r="12" fill="#e06b7b"/><circle cx="2331" cy="1121" r="12" fill="#e06b7b"/><circle cx="2420" cy="1121" r="12" fill="#e06b7b"/>
<circle cx="2192" cy="1205" r="12" fill="#cde8f4"/><circle cx="2262" cy="1205" r="12" fill="#cde8f4"/><circle cx="2331" cy="1205" r="12" fill="#cde8f4"/><circle cx="2400" cy="1205" r="12" fill="#cde8f4"/><circle cx="2470" cy="1205" r="12" fill="#cde8f4"/>
<circle cx="2192" cy="1272" r="12" fill="#f2cc55"/><circle cx="2262" cy="1272" r="12" fill="#f2cc55"/><circle cx="2331" cy="1272" r="12" fill="#f2cc55"/><circle cx="2400" cy="1272" r="12" fill="#f2cc55"/><circle cx="2470" cy="1272" r="12" fill="#f2cc55"/>
<circle cx="2240" cy="1354" r="12" fill="#5fbf8f"/><circle cx="2331" cy="1354" r="12" fill="#5fbf8f"/><circle cx="2420" cy="1354" r="12" fill="#5fbf8f"/>
</g>

<!-- method boxes -->
<g fill="#6e6b6b">
<rect x="2535" y="981" width="248" height="55"/><rect x="2540" y="1080" width="250" height="55"/><rect x="2544" y="1174" width="249" height="54"/><rect x="2544" y="1266" width="249" height="54"/><rect x="2548" y="1355" width="248" height="55"/></g>
<g font-size="32" font-style="italic" font-weight="bold" text-anchor="middle" class="w">
<text x="2659" y="1020">LoRA</text><text x="2665" y="1119">Adapter</text><text x="2668" y="1212">BitFit</text><text x="2668" y="1304">VPT</text><text x="2672" y="1394">Full-tuning</text></g>
<g font-size="24" font-style="italic" text-anchor="middle" class="k">
<text x="2657" y="1072">OR</text><text x="2662" y="1170">OR</text><text x="2666" y="1260">OR</text><text x="2667" y="1350">OR</text></g>
<path d="M2803 1024H2815V1296H2803M2815 1164H2835" fill="none" stroke="#000" stroke-width="3"/>

<rect x="2860" y="945" width="107" height="420" fill="#e8b48a"/>
<g transform="translate(2948,1155) rotate(90)"><text x="0" y="0" font-size="36" font-weight="bold" text-anchor="middle" class="w" textLength="300" lengthAdjust="spacingAndGlyphs">Parameter-Efficient</text></g>
<g transform="translate(2893,1155) rotate(90)"><text x="0" y="0" font-size="36" font-weight="bold" text-anchor="middle" class="w" textLength="180" lengthAdjust="spacingAndGlyphs">Fine-tuning</text></g>

<use href="#chev" x="2888" y="627" width="90" height="90"/>
<use href="#chev" x="2890" y="740" width="90" height="92"/>
<use href="#chev" x="2892" y="850" width="90" height="90"/>
</svg>
</body></html>
